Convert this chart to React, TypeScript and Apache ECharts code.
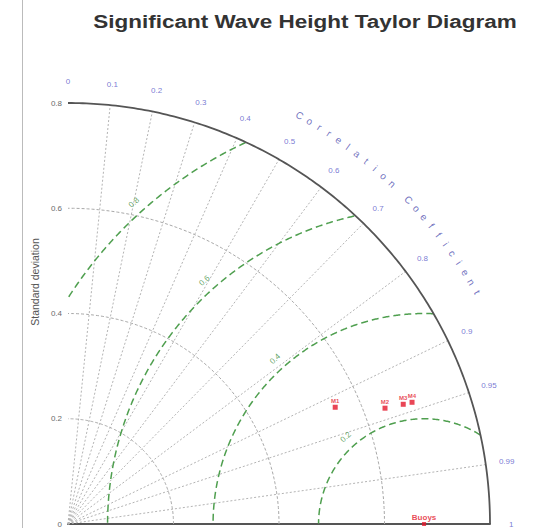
import React, { useEffect, useRef } from 'react';
import * as echarts from 'echarts';

const TITLE = 'Significant Wave Height Taylor Diagram';
const corrTicks = [0, 0.1, 0.2, 0.3, 0.4, 0.5, 0.6, 0.7, 0.8, 0.9, 0.95, 0.99, 1];
const corrTickLabels = ['0', '0.1', '0.2', '0.3', '0.4', '0.5', '0.6', '0.7', '0.8', '0.9', '0.95', '0.99', '1'];
const stdArcs = [0.2, 0.4, 0.6];
const stdMax = 0.8;
const rmsLevels = [0.2, 0.4, 0.6, 0.8];
const rmsLabels = ['0.2', '0.4', '0.6', '0.8'];
const refName = 'Buoys';
const refStd = 0.675;
const modelNames = ['M1', 'M2', 'M3', 'M4'];
const modelStd = [0.553, 0.64, 0.675, 0.692];
const modelCorr = [0.916, 0.939, 0.9415, 0.9425];
const corrTitle = 'Correlation Coefficient';
const yAxisName = 'Standard deviation';

const FONT = '"Liberation Sans", Arial, sans-serif';

function arcFromOrigin(r: number) {
  const pts: number[][] = [];
  for (let a = 0; a <= 90.001; a += 0.5) {
    const t = (a * Math.PI) / 180;
    pts.push([r * Math.cos(t), r * Math.sin(t)]);
  }
  return pts;
}

function rmsArc(rr: number) {
  const pts: number[][] = [];
  for (let a = 0; a <= 180.001; a += 0.25) {
    const t = (a * Math.PI) / 180;
    const x = refStd + rr * Math.cos(t);
    const y = rr * Math.sin(t);
    if (x >= 0 && y >= 0 && Math.hypot(x, y) <= stdMax + 1e-9) pts.push([x, y]);
  }
  return pts;
}

export default function App() {
  const ref = useRef<HTMLDivElement>(null);
  useEffect(() => {
    if (!ref.current) return;
    const chart = echarts.init(ref.current, undefined, { renderer: 'svg' });
    const series: any[] = [];

    // correlation rays
    corrTicks.forEach((c) => {
      if (c <= 0 || c >= 1) return;
      const s = Math.sqrt(1 - c * c);
      series.push({
        type: 'line', silent: true, symbol: 'none', clip: false,
        data: [[0, 0], [stdMax * c, stdMax * s]],
        lineStyle: { color: '#b4b4b4', width: 1, type: [2, 2] },
        z: 1,
      });
    });
    // std arcs
    stdArcs.forEach((r) => {
      series.push({
        type: 'line', silent: true, symbol: 'none', clip: false,
        data: arcFromOrigin(r),
        lineStyle: { color: '#a8a8a8', width: 1, type: [3, 2] },
        z: 1,
      });
    });
    // outer arc
    series.push({
      type: 'line', silent: true, symbol: 'none', clip: false,
      data: arcFromOrigin(stdMax),
      lineStyle: { color: '#555', width: 1.8 },
      z: 3,
    });
    // rms arcs
    rmsLevels.forEach((rr) => {
      series.push({
        type: 'line', silent: true, symbol: 'none', clip: false,
        data: rmsArc(rr),
        lineStyle: { color: '#4f9f4f', width: 1.5, type: [7, 4] },
        z: 2,
      });
    });
    // rms labels
    const phi = (132 * Math.PI) / 180;
    series.push({
      type: 'scatter', silent: true, clip: false, symbolSize: 1,
      itemStyle: { color: 'transparent' },
      data: rmsLevels.map((rr, i) => ({
        name: rmsLabels[i],
        value: [refStd + (rr + 0.022) * Math.cos(phi), (rr + 0.022) * Math.sin(phi)],
      })),
      label: {
        show: true, position: 'inside', formatter: (p: any) => p.name,
        color: '#3f8f3f', fontSize: 8, fontFamily: FONT, rotate: 42,
      },
      z: 4,
    });
    // correlation tick labels
    const labR = 0.84;
    series.push({
      type: 'scatter', silent: true, clip: false, symbolSize: 1,
      itemStyle: { color: 'transparent' },
      data: corrTicks.map((c, i) => ({
        name: corrTickLabels[i],
        value: [labR * c, labR * Math.sqrt(1 - c * c)],
      })),
      label: {
        show: true, position: 'inside', formatter: (p: any) => p.name,
        color: '#5656c8', fontSize: 8, fontFamily: FONT,
      },
      z: 4,
    });
    // Correlation Coefficient title along arc
    const chars = corrTitle.split('');
    const a0 = 60.5, a1 = 29.6, tR = 0.892;
    series.push({
      type: 'scatter', silent: true, clip: false, symbolSize: 1,
      itemStyle: { color: 'transparent' },
      data: chars.map((ch, i) => {
        const a = a0 + ((a1 - a0) * i) / (chars.length - 1);
        const t = (a * Math.PI) / 180;
        return {
          name: ch,
          value: [tR * Math.cos(t), tR * Math.sin(t)],
          label: { rotate: a - 90 },
        };
      }),
      label: {
        show: true, position: 'inside', formatter: (p: any) => p.name,
        color: '#5050b0', fontSize: 10, fontFamily: FONT,
      },
      z: 4,
    });
    // models
    series.push({
      type: 'scatter', clip: false, symbol: 'rect', symbolSize: 5,
      itemStyle: { color: '#e3182c' },
      data: modelNames.map((n, i) => ({
        name: n,
        value: [modelStd[i] * modelCorr[i], modelStd[i] * Math.sqrt(1 - modelCorr[i] * modelCorr[i])],
      })),
      label: {
        show: true, position: 'top', distance: 1, formatter: (p: any) => p.name,
        color: '#e3182c', fontSize: 6, fontFamily: FONT, fontWeight: 'bold',
      },
      z: 6,
    });
    // reference
    series.push({
      type: 'scatter', clip: false, symbol: 'rect', symbolSize: 4,
      itemStyle: { color: '#e3182c' },
      data: [{ name: refName, value: [refStd, 0] }],
      label: {
        show: true, position: 'top', distance: 1, formatter: (p: any) => p.name,
        color: '#e3182c', fontSize: 8, fontFamily: FONT, fontWeight: 'bold',
      },
      z: 6,
    });

    chart.setOption({
      animation: false,
      grid: { left: 68, top: 103, width: 422, height: 422 },
      xAxis: {
        type: 'value', min: 0, max: stdMax,
        axisLine: { show: true, lineStyle: { color: '#555', width: 2 } },
        axisTick: { show: false }, axisLabel: { show: false }, splitLine: { show: false },
      },
      yAxis: {
        type: 'value', min: 0, max: stdMax, interval: 0.2,
        axisLine: { show: false }, axisTick: { show: false }, splitLine: { show: false },
        axisLabel: { color: '#6a6a6a', fontSize: 8, fontFamily: FONT, margin: 6 },
      },
      graphic: [
        { type: 'line', shape: { x1: 22.5, y1: 0, x2: 22.5, y2: 528 }, style: { stroke: '#bbb', lineWidth: 1 } },
        {
          type: 'text', x: 305, y: 22, scaleX: 1.25,
          style: { text: TITLE, align: 'center', verticalAlign: 'middle', fontSize: 18, fontWeight: 'bold', fill: '#333', fontFamily: FONT },
        },
        {
          type: 'text', x: 35, y: 282, rotation: Math.PI / 2,
          style: { text: yAxisName, align: 'center', verticalAlign: 'middle', fontSize: 10.5, fill: '#555', fontFamily: FONT },
        },
      ],
      series,
    });
    return () => chart.dispose();
  }, []);
  return <div ref={ref} style={{ width: 533, height: 528, position: 'absolute', left: 0, top: 0 }} />;
}
